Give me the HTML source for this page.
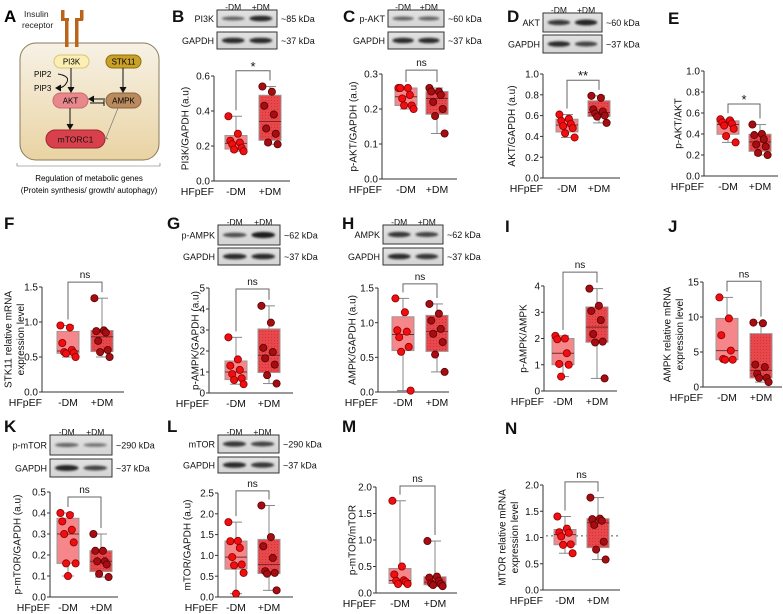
<!DOCTYPE html>
<html><head><meta charset="utf-8">
<style>
html,body{margin:0;padding:0;background:#fff;}
svg{display:block;font-family:"Liberation Sans",Arial,sans-serif;}
</style></head>
<body>
<svg id="fig" width="783" height="614" viewBox="0 0 783 614">
<defs>
 <linearGradient id="cellg" x1="0" y1="0" x2="0" y2="1"><stop offset="0" stop-color="#f7f2e6"/><stop offset="1" stop-color="#e9d3a3"/></linearGradient>
 <linearGradient id="blotg" x1="0" y1="0" x2="0" y2="1"><stop offset="0" stop-color="#e2e2e2"/><stop offset="1" stop-color="#d4d4d4"/></linearGradient>
 <filter id="blur" x="-20%" y="-100%" width="140%" height="300%"><feGaussianBlur stdDeviation="1.1"/></filter>
 <pattern id="dots" width="3" height="3" patternUnits="userSpaceOnUse"><rect width="3" height="3" fill="#e8474b"/><circle cx="1.5" cy="1.5" r="0.5" fill="#c62e33"/></pattern>
</defs>

<!-- Panel A diagram -->
<g>
 <text x="4" y="22" font-size="17" font-weight="bold">A</text>
 <text x="24" y="17" font-size="8.5" fill="#222">Insulin</text>
 <text x="22" y="28" font-size="8.5" fill="#222">receptor</text>
 <rect x="20" y="43" width="139" height="117" rx="16" fill="url(#cellg)" stroke="#8a7a5a" stroke-width="1"/>
 <g fill="#b8641a">
  <rect x="61" y="10" width="3.5" height="10"/><rect x="61" y="18" width="8" height="3"/><rect x="65" y="20" width="3.5" height="27"/>
  <rect x="80" y="10" width="3.5" height="10"/><rect x="75" y="18" width="8" height="3"/><rect x="75" y="20" width="3.5" height="27"/>
 </g>
 <rect x="54" y="55" width="35" height="13" rx="6.5" fill="#fbefb5" stroke="#d9c47a"/>
 <text x="71.5" y="64.5" font-size="8" text-anchor="middle">PI3K</text>
 <rect x="106" y="55" width="35" height="13" rx="6.5" fill="#c9a128" stroke="#8e6f10"/>
 <text x="123.5" y="64.5" font-size="8" text-anchor="middle">STK11</text>
 <rect x="53" y="93" width="35" height="15" rx="7.5" fill="#e9888c" stroke="#c86a6e"/>
 <text x="70.5" y="103.5" font-size="8" text-anchor="middle">AKT</text>
 <rect x="106" y="93" width="35" height="15" rx="7.5" fill="#b98b5f" stroke="#8b6240"/>
 <text x="123.5" y="103.5" font-size="8" text-anchor="middle">AMPK</text>
 <rect x="46" y="130" width="59" height="18" rx="9" fill="#d8414c" stroke="#9e2630"/>
 <text x="75.5" y="142.5" font-size="8.5" text-anchor="middle" fill="#111">mTORC1</text>
 <g stroke="#111" stroke-width="1" fill="none">
  <line x1="71" y1="68" x2="71" y2="90"/><path d="M68,87 L71,92 L74,87" fill="#111"/>
  <line x1="123" y1="68" x2="123" y2="90"/><path d="M120,87 L123,92 L126,87" fill="#111"/>
  <line x1="70" y1="108" x2="70" y2="127"/><path d="M67,124 L70,129 L73,124" fill="#111"/>
  <line x1="105" y1="99" x2="92" y2="99"/><path d="M94,96 L89,99 L94,102" fill="#111"/>
  <line x1="90" y1="103" x2="104" y2="103"/><line x1="104" y1="100" x2="104" y2="106"/>
  <path d="M58,74 Q70,76 67,82 Q64,88 58,88"/><path d="M61,85 L56,88 L61,91" fill="#111"/>
 </g>
 <line x1="118" y1="108" x2="106" y2="138" stroke="#777" stroke-width="0.7"/><line x1="104" y1="137" x2="108" y2="139" stroke="#777"/>
 <text x="34" y="77" font-size="8">PIP2</text>
 <text x="34" y="91" font-size="8">PIP3</text>
 <path d="M17,163 L17,166 L160,166 L160,163" fill="none" stroke="#666" stroke-width="0.6"/>
 <text x="89" y="181" font-size="8" text-anchor="middle">Regulation of metabolic genes</text>
 <text x="89" y="193" font-size="8" text-anchor="middle">(Protein synthesis/ growth/ autophagy)</text>
</g>
<g id="panels"></g>
</svg>
<script>
// ---- data per panel ----
const catLabels = ["-DM", "+DM"];
const B_minus = [0.37,0.27,0.23,0.22,0.21,0.19,0.18,0.17];
const B_plus  = [0.54,0.51,0.43,0.38,0.30,0.27,0.22,0.21];
const C_minus = [0.26,0.26,0.26,0.24,0.23,0.21,0.21,0.20];
const C_plus  = [0.26,0.25,0.25,0.24,0.22,0.20,0.18,0.13];
const D_minus = [0.61,0.57,0.55,0.52,0.50,0.48,0.43,0.39];
const D_plus  = [0.79,0.77,0.66,0.64,0.62,0.60,0.59,0.53];
const E_minus = [0.54,0.53,0.51,0.50,0.48,0.45,0.38,0.32];
const E_plus  = [0.49,0.40,0.39,0.35,0.30,0.28,0.22,0.20];
const F_minus = [0.95,0.92,0.70,0.60,0.57,0.56,0.55,0.50];
const F_plus  = [1.34,0.88,0.87,0.85,0.73,0.60,0.57,0.50];
const G_minus = [2.65,1.60,1.30,1.10,0.90,0.70,0.62,0.42];
const G_plus  = [4.15,3.35,2.15,1.95,1.65,1.35,0.85,0.45];
const H_minus = [1.35,1.15,0.89,0.87,0.79,0.65,0.58,0.02];
const H_plus  = [1.27,1.13,1.03,0.91,0.84,0.72,0.54,0.29];
const I_minus = [2.10,2.00,1.97,1.44,1.03,1.00,0.55];
const I_plus  = [3.90,3.25,3.05,2.70,2.17,1.88,1.85,0.48];
const J_minus = [12.8,9.8,7.4,5.2,4.0,3.9,3.9];
const J_plus  = [9.2,9.1,3.2,2.85,1.9,1.3,1.3,0.7];
const K_minus = [0.40,0.39,0.36,0.32,0.30,0.26,0.16,0.16,0.10];
const K_plus  = [0.30,0.22,0.22,0.17,0.17,0.155,0.11,0.095];
const L_minus = [1.80,1.35,1.34,1.18,0.96,0.78,0.76,0.58,0.08];
const L_plus  = [2.20,1.44,1.22,0.94,0.62,0.58,0.56,0.16];
const M_minus = [1.74,0.50,0.35,0.24,0.23,0.21,0.17,0.17];
const M_plus  = [0.98,0.31,0.29,0.23,0.18,0.17,0.15,0.13];
const N_minus = [1.40,1.17,1.10,1.09,1.02,0.87,0.86,0.70];
const N_plus  = [1.76,1.36,1.35,1.32,1.24,0.92,0.77,0.58];
const sigLabels = {B:"*",C:"ns",D:"**",E:"*",F:"ns",G:"ns",H:"ns",I:"ns",J:"ns",K:"ns",L:"ns",M:"ns",N:"ns"};
const ticksB=[0,0.2,0.4,0.6], ticksC=[0,0.1,0.2,0.3], ticks01=[0,0.2,0.4,0.6,0.8,1.0];
const ticks15=[0,0.5,1.0,1.5], ticksG=[0,1,2,3,4,5], ticksI=[0,1,2,3,4], ticksJ=[0,5,10,15];
const ticksK=[0,0.1,0.2,0.3,0.4,0.5], ticksL=[0,0.5,1.0,1.5,2.0,2.5], ticks20=[0,0.5,1.0,1.5,2.0];

// ---- layout (pixels) ----
const panels = [
 {id:"B",ax:214,y0:181,yT:76,max:0.6,ticks:ticksB,dec:1,xm:236,xp:270,xe:290,br:0.63,title:["PI3K/GAPDH (a.u)"],tx:185,d:[B_minus,B_plus]},
 {id:"C",ax:382,y0:179,yT:74,max:0.3,ticks:ticksC,dec:1,xm:406,xp:437,xe:457,br:0.311,title:["p-AKT/GAPDH (a.u)"],tx:353,d:[C_minus,C_plus]},
 {id:"D",ax:543,y0:178,yT:74,max:1.0,ticks:ticks01,dec:1,xm:567,xp:599,xe:620,br:0.94,title:["AKT/GAPDH (a.u)"],tx:511.5,d:[D_minus,D_plus]},
 {id:"E",ax:704,y0:176,yT:71,max:1.0,ticks:ticks01,dec:1,xm:728,xp:760,xe:778,br:0.686,title:["p-AKT/AKT"],tx:678,d:[E_minus,E_plus]},
 {id:"F",ax:42,y0:392,yT:287,max:1.5,ticks:ticks15,dec:1,xm:68,xp:102,xe:124,br:1.57,title:["STK11 relative mRNA","expression level"],tx:8,d:[F_minus,F_plus]},
 {id:"G",ax:209,y0:393,yT:288,max:5,ticks:ticksG,dec:0,xm:236,xp:269,xe:293,br:4.95,title:["p-AMPK/GAPDH (a.u)"],tx:195,d:[G_minus,G_plus]},
 {id:"H",ax:378,y0:392,yT:288,max:1.5,ticks:ticks15,dec:1,xm:403,xp:437,xe:449,br:1.56,title:["AMPK/GAPDH (a.u)"],tx:352,d:[H_minus,H_plus]},
 {id:"I",ax:544,y0:391,yT:286,max:4,ticks:ticksI,dec:0,xm:563,xp:597,xe:617,br:4.53,title:["p-AMPK/AMPK"],tx:523,d:[I_minus,I_plus]},
 {id:"J",ax:703,y0:387,yT:282,max:15,ticks:ticksJ,dec:0,xm:727,xp:761,xe:782,br:15.1,title:["AMPK relative mRNA","expression level"],tx:667,d:[J_minus,J_plus]},
 {id:"K",ax:50,y0:597,yT:492,max:0.5,ticks:ticksK,dec:1,xm:68,xp:101,xe:118,br:0.476,title:["p-mTOR/GAPDH (a.u)"],tx:17,d:[K_minus,K_plus]},
 {id:"L",ax:218,y0:597,yT:493,max:2.5,ticks:ticksL,dec:1,xm:236,xp:269,xe:293,br:2.55,title:["mTOR/GAPDH (a.u)"],tx:187,d:[L_minus,L_plus]},
 {id:"M",ax:376,y0:593,yT:487,max:2.0,ticks:ticks20,dec:1,xm:400,xp:435,xe:457,br:2.02,title:["p-mTOR/mTOR"],tx:352,d:[M_minus,M_plus]},
 {id:"N",ax:543,y0:590,yT:485,max:2.0,ticks:ticks20,dec:1,xm:565,xp:598,xe:620,br:2.06,title:["MTOR relative mRNA","expression level"],tx:502,d:[N_minus,N_plus],dotted:1.03}
];
const letters = {B:[172,22],C:[343,22],D:[507,22],E:[668,24],F:[4,229],G:[167,229],H:[342,229],I:[505,232],J:[668,232],K:[4,432],L:[167,432],M:[342,432],N:[505,434]};
const blots = [
 {id:"B",x:217,w:60,r1:[10,17],r2:[32,17],top:4,p:"PI3K",k1:"~85 kDa",b1:[0.5,1.0],b2:[1.0,1.0]},
 {id:"C",x:388,w:56,r1:[10,17],r2:[32,17],top:4,p:"p-AKT",k1:"~60 kDa",b1:[0.5,0.5],b2:[1.0,1.0]},
 {id:"D",x:543,w:59,r1:[13,19],r2:[35,18],top:7,p:"AKT",k1:"~60 kDa",b1:[0.9,1.1],b2:[1.0,0.8]},
 {id:"G",x:218,w:62,r1:[225,20],r2:[248,17],top:219,p:"p-AMPK",k1:"~62 kDa",b1:[0.7,1.2],b2:[1.0,1.0]},
 {id:"H",x:383,w:60,r1:[225,19],r2:[248,17],top:219,p:"AMPK",k1:"~62 kDa",b1:[0.9,0.8],b2:[1.0,0.9]},
 {id:"K",x:50,w:62,r1:[435,20],r2:[459,18],top:429,p:"p-mTOR",k1:"~290 kDa",b1:[0.5,0.35],b2:[1.1,0.8]},
 {id:"L",x:218,w:61,r1:[435,18],r2:[457,16],top:429,p:"mTOR",k1:"~290 kDa",b1:[0.9,0.8],b2:[1.0,0.9]}
];
const NS="http://www.w3.org/2000/svg";
const root=document.getElementById('panels');
function mk(tag,attrs,parent){const e=document.createElementNS(NS,tag);for(const k in attrs)e.setAttribute(k,attrs[k]);(parent||root).appendChild(e);return e;}
function txt(x,y,s,size,anchor,parent,extra){const t=mk('text',Object.assign({x:x,y:y,'font-size':size,'text-anchor':anchor||'start',fill:'#111'},extra||{}),parent);t.textContent=s;return t;}
function quant(a,q){const s=a.slice().sort((x,y)=>x-y);const n=s.length;const p=q*(n+1)-1;if(p<=0)return s[0];if(p>=n-1)return s[n-1];const i=Math.floor(p);return s[i]+(p-i)*(s[i+1]-s[i]);}

for(const id in letters){const t=txt(letters[id][0],letters[id][1],id,17,'start',root,{'font-weight':'bold'});
 
 }

blots.forEach(b=>{
 const g=mk('g',{});
 
 
 txt(b.x+b.w*0.27,b.top+6,"-DM",8.5,'middle',g);
 txt(b.x+b.w*0.73,b.top+6,"+DM",8.5,'middle',g);
 [[b.r1,b.p,b.k1,b.b1],[b.r2,"GAPDH","~37 kDa",b.b2]].forEach(r=>{
  const y=r[0][0],h=r[0][1];
  mk('rect',{x:b.x,y:y,width:b.w,height:h,fill:'url(#blotg)',stroke:'#333','stroke-width':1},g);
  [0.27,0.73].forEach((f,i)=>{const s=r[3][i];
   mk('ellipse',{cx:b.x+b.w*f,cy:y+h/2,rx:b.w*0.19,ry:1.2+1.6*s,fill:'#1a1a1a','fill-opacity':Math.min(1,0.35+0.55*s),filter:'url(#blur)'},g);});
  txt(b.x-3,y+h/2+3.5,r[1],9,'end',g);
  txt(b.x+b.w+4,y+h/2+3.5,r[2],9,'start',g);
 });
});

panels.forEach(P=>{
 const g=mk('g',{});
 
 
 const Y=v=>P.y0-(v/P.max)*(P.y0-P.yT);
 mk('line',{x1:P.ax,y1:P.yT,x2:P.ax,y2:P.y0,stroke:'#333','stroke-width':1},g);
 mk('line',{x1:P.ax,y1:P.y0,x2:P.xe,y2:P.y0,stroke:'#333','stroke-width':1},g);
 P.ticks.forEach(t=>{
  mk('line',{x1:P.ax-3,y1:Y(t),x2:P.ax,y2:Y(t),stroke:'#333'},g);
  const l=txt(P.ax-4,Y(t)+3.6,t.toFixed(P.dec),10,'end',g);
  
  
 });
 const hf=txt(P.ax,P.y0+14,"HFpEF",10.5,'end',g);
 
 
 [P.xm,P.xp].forEach((x,i)=>{const l=txt(x,P.y0+14,catLabels[i],10.5,'middle',g);
  
  });
 const mid=(P.y0+P.yT)/2;
 P.title.forEach((s,i)=>{const x=P.tx+i*12.5+3.5;
  const t=txt(x,mid,s,10,'middle',g,{transform:'rotate(-90 '+x+' '+mid+')'});
  
  });
 if(P.dotted!==undefined){mk('line',{x1:P.ax+3,y1:Y(P.dotted),x2:P.xe,y2:Y(P.dotted),stroke:'#555','stroke-dasharray':'2,3'},g);}
 P.d.forEach((arr,i)=>{
  const cx=i?P.xp:P.xm;const bw=11;
  const mn=Math.min(...arr),mx=Math.max(...arr),q1=quant(arr,0.25),md=quant(arr,0.5),q3=quant(arr,0.75);
  mk('line',{x1:cx,y1:Y(mx),x2:cx,y2:Y(mn),stroke:'#888','stroke-width':1},g);
  mk('line',{x1:cx-6,y1:Y(mx),x2:cx+6,y2:Y(mx),stroke:'#888'},g);
  mk('line',{x1:cx-6,y1:Y(mn),x2:cx+6,y2:Y(mn),stroke:'#888'},g);
  const r=mk('rect',{x:cx-bw,y:Y(q3),width:2*bw,height:Math.max(0.5,Y(q1)-Y(q3)),fill:i?'url(#dots)':'#f5878b',stroke:'#999','stroke-width':1},g);
  
  
  mk('line',{x1:cx-bw,y1:Y(md),x2:cx+bw,y2:Y(md),stroke:'#7a2a2a','stroke-width':1},g);
  arr.forEach((v,j)=>{const off=((j*5)%9-4)*1.9;
   const c=mk('circle',{cx:cx+off,cy:Y(v),r:3.6,fill:i?'#a50d12':'#f20d10',stroke:i?'#5a0000':'#8a0000','stroke-width':0.8},g);
   
   });
 });
 const by=Y(P.br);
 const m0=Y(Math.max(...P.d[0]))-6,m1=Y(Math.max(...P.d[1]))-6;
 mk('path',{d:`M${P.xm},${Math.max(by+4,m0)} L${P.xm},${by} L${P.xp},${by} L${P.xp},${Math.max(by+4,m1)}`,fill:'none',stroke:'#666','stroke-width':1},g);
 const s=sigLabels[P.id];
 const st=txt((P.xm+P.xp)/2,by-(s==='ns'?4:0),s,s==='ns'?10:13,'middle',g);
 
 
});
</script>
</body></html>
